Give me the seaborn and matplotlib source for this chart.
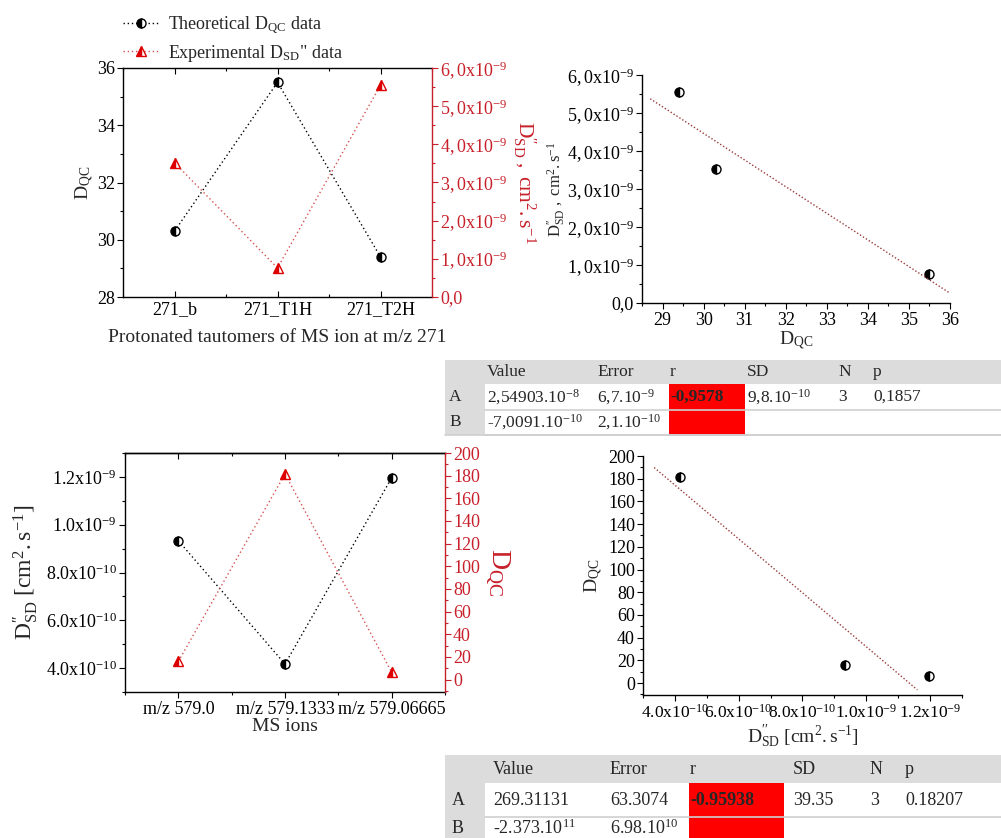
import numpy as np
import pandas as pd
import matplotlib
matplotlib.use("Agg")
import matplotlib.pyplot as plt
from matplotlib.ticker import MultipleLocator, FuncFormatter
from matplotlib.patches import Rectangle
import seaborn as sns

# ---------------- data ----------------
tautomers = ["271_b", "271_T1H", "271_T2H"]
dqc_271 = [30.3, 35.5, 29.4]
dsd_271 = [3.52e-9, 0.76e-9, 5.55e-9]

ions = ["m/z 579.0", "m/z 579.1333", "m/z 579.06665"]
dsd_579 = [9.33e-10, 4.17e-10, 1.196e-9]
dqc_579 = [16.0, 181.5, 6.5]

# linear fits  y = A + B*x
fit1_A, fit1_B = 2.54903e-8, -7.0091e-10
fit1_span = [28.7, 36.0]
fit2_A, fit2_B = 269.31131, -2.373e11
fit2_span = [3.35e-10, 1.16e-9]

table_header = ["Value", "Error", "r", "SD", "N", "p"]
table1_rows = [
    ["A", r"2,54903.10$\mathregular{^{-8}}$", r"6,7.10$\mathregular{^{-9}}$", "-0,9578",
     r"9,8.10$\mathregular{^{-10}}$", "3", "0,1857"],
    ["B", r"-7,0091.10$\mathregular{^{-10}}$", r"2,1.10$\mathregular{^{-10}}$", "", "", "", ""],
]
table2_rows = [
    ["A", "269.31131", "63.3074", "-0.95938", "39.35", "3", "0.18207"],
    ["B", r"-2.373.10$\mathregular{^{11}}$", r"6.98.10$\mathregular{^{10}}$", "", "", "", ""],
]

DSD_UNIT = r"$\mathregular{D_{SD}^{\prime\prime}\ ,\ cm^{2}.s^{-1}}$"
DSD_BRACKET = r"$\mathregular{D_{SD}^{\prime\prime}\ [cm^{2}.s^{-1}]}$"
DQC = r"$\mathregular{D_{QC}}$"

# ---------------- style ----------------
sns.set_theme(style="ticks")
plt.rcParams.update({
    "font.family": ["Liberation Serif", "DejaVu Serif"],
    "mathtext.fontset": "custom",
    "mathtext.rm": "Liberation Serif",
    "mathtext.it": "Liberation Serif:italic",
    "mathtext.bf": "Liberation Serif:bold",
    "font.size": 13,
    "axes.linewidth": 1.0,
    "axes.edgecolor": "black",
    "xtick.color": "black",
    "ytick.color": "black",
    "xtick.labelsize": 13,
    "ytick.labelsize": 13,
    "xtick.major.size": 4,
    "ytick.major.size": 4,
    "xtick.minor.size": 2.5,
    "ytick.minor.size": 2.5,
    "xtick.major.width": 0.8,
    "ytick.major.width": 0.8,
    "xtick.minor.width": 0.8,
    "ytick.minor.width": 0.8,
    "xtick.major.pad": 2.5,
    "ytick.major.pad": 1.8,
    "legend.numpoints": 1,
})

RED = "#c8202a"
TRI_RED = "#dd0000"
LINE_RED = "#d85050"
FIT_COL = "#9a3a3a"

W, H = 1001, 838
fig = plt.figure(figsize=(W / 100, H / 100), dpi=100)


def ax_px(x0, y0, x1, y1):
    return fig.add_axes([x0 / W, 1 - y1 / H, (x1 - x0) / W, (y1 - y0) / H])


def sci_fmt(sep):
    def f(v, pos):
        if abs(v) < 1e-30:
            return f"0{sep}0"
        e = int(np.floor(round(np.log10(abs(v)), 6)))
        m = v / 10.0 ** e
        s = f"{m:.1f}".replace(".", sep)
        return rf"$\mathregular{{{s}x10^{{{e}}}}}$"
    return FuncFormatter(f)


circ_kw = dict(marker="o", fillstyle="left", markersize=6.5, markeredgecolor="black",
               markerfacecolor="black", markerfacecoloralt="white", markeredgewidth=1.0)
tri_kw = dict(marker="^", fillstyle="left", markersize=7.5, markeredgecolor=TRI_RED,
              markerfacecolor=TRI_RED, markerfacecoloralt="white", markeredgewidth=1.0)
dot_ls = (0, (1, 2))

# ---------------- panel 1: tautomers of m/z 271 ----------------
df1 = pd.DataFrame({"tautomer": tautomers, "dqc": dqc_271, "dsd": dsd_271})
ax1 = ax_px(123, 68, 432, 297)
sns.lineplot(data=df1, x="tautomer", y="dqc", ax=ax1, sort=False, legend=False,
             color="black", linestyle=dot_ls, linewidth=1.0, **circ_kw)
ax1.set_xlim(-0.5, 2.5)
ax1.set_ylim(28, 36)
ax1.yaxis.set_major_locator(MultipleLocator(2))
ax1.yaxis.set_minor_locator(MultipleLocator(1))
ax1.xaxis.set_minor_locator(MultipleLocator(0.5))
ax1.tick_params(axis="x", which="both", direction="in", top=True, bottom=True, pad=3)
ax1.tick_params(axis="y", which="both", direction="out", left=True, right=False)
ax1.set_xlabel("Protonated tautomers of MS ion at m/z 271", fontsize=14, labelpad=8)
ax1.set_ylabel(DQC, fontsize=14, labelpad=1)
ax1.spines["right"].set_visible(False)

ax1b = ax1.twinx()
sns.lineplot(data=df1, x="tautomer", y="dsd", ax=ax1b, sort=False, legend=False,
             color=LINE_RED, linestyle=dot_ls, linewidth=1.0, **tri_kw)
ax1b.set_ylim(0, 6e-9)
ax1b.yaxis.set_major_locator(MultipleLocator(1e-9))
ax1b.yaxis.set_minor_locator(MultipleLocator(0.5e-9))
ax1b.yaxis.set_major_formatter(sci_fmt(","))
ax1b.yaxis.get_offset_text().set_visible(False)
ax1b.tick_params(axis="y", which="both", direction="out", colors=RED, labelcolor=RED)
for s in ("left", "top", "bottom"):
    ax1b.spines[s].set_visible(False)
ax1b.spines["right"].set_color(RED)
ax1b.set_ylabel(DSD_UNIT, color=RED, fontsize=15.5, rotation=270, labelpad=22)

fig.legend([ax1.lines[0], ax1b.lines[0]],
           [r"Theoretical $\mathregular{D_{QC}}$ data",
            r'Experimental $\mathregular{D_{SD}}$" data'],
           loc="upper left", bbox_to_anchor=(110 / W, 1 - 2 / H), frameon=False,
           handlelength=2.0, handletextpad=0.5, labelspacing=0.35, fontsize=13,
           borderpad=0.2)

# ---------------- panel 2: D_SD vs D_QC (271) ----------------
ax2 = ax_px(642, 75, 950, 303)
sns.lineplot(x=dqc_271, y=dsd_271, ax=ax2, sort=False, legend=False,
             linestyle="none", **circ_kw)
x_fit1 = np.array(fit1_span)
sns.lineplot(x=x_fit1, y=fit1_A + fit1_B * x_fit1, ax=ax2, legend=False,
             color=FIT_COL, linestyle=(0, (1, 1.5)), linewidth=1.0)
ax2.set_xlim(28.5, 36)
ax2.set_ylim(0, 6e-9)
ax2.xaxis.set_major_locator(MultipleLocator(1))
ax2.xaxis.set_minor_locator(MultipleLocator(0.5))
ax2.yaxis.set_major_locator(MultipleLocator(1e-9))
ax2.yaxis.set_minor_locator(MultipleLocator(0.5e-9))
ax2.yaxis.set_major_formatter(sci_fmt(","))
ax2.yaxis.get_offset_text().set_visible(False)
ax2.tick_params(which="both", direction="out")
sns.despine(ax=ax2)
ax2.set_xlabel(DQC, fontsize=14, labelpad=0)
ax2.set_ylabel(DSD_UNIT, labelpad=-1)

# ---------------- panel 3: MS ions of m/z 579 ----------------
df3 = pd.DataFrame({"ion": ions, "dsd": dsd_579, "dqc": dqc_579})
ax3 = ax_px(125, 453, 445, 692)
sns.lineplot(data=df3, x="ion", y="dsd", ax=ax3, sort=False, legend=False,
             color="black", linestyle=dot_ls, linewidth=1.0, **circ_kw)
ax3.set_xlim(-0.5, 2.5)
ax3.set_ylim(3e-10, 1.3e-9)
ax3.yaxis.set_major_locator(MultipleLocator(2e-10))
ax3.yaxis.set_minor_locator(MultipleLocator(1e-10))
ax3.yaxis.set_major_formatter(sci_fmt("."))
ax3.yaxis.get_offset_text().set_visible(False)
ax3.xaxis.set_minor_locator(MultipleLocator(0.5))
ax3.tick_params(axis="x", which="both", direction="out", bottom=True, top=False)
ax3.tick_params(axis="y", which="both", direction="out", left=True, right=False)
ax3.spines["right"].set_visible(False)
ax3.set_xlabel("MS ions", fontsize=14, labelpad=0)
ax3.set_ylabel(DSD_BRACKET, fontsize=17, labelpad=4)
ax3top = ax3.secondary_xaxis("top")
ax3top.xaxis.set_major_locator(MultipleLocator(1))
ax3top.xaxis.set_minor_locator(MultipleLocator(0.5))
ax3top.tick_params(which="both", direction="in", labeltop=False)

ax3b = ax3.twinx()
sns.lineplot(data=df3, x="ion", y="dqc", ax=ax3b, sort=False, legend=False,
             color=LINE_RED, linestyle=dot_ls, linewidth=1.0, **tri_kw)
ax3b.set_ylim(-11, 200)
ax3b.yaxis.set_major_locator(MultipleLocator(20))
ax3b.yaxis.set_minor_locator(MultipleLocator(10))
ax3b.tick_params(axis="y", which="both", direction="out", colors=RED, labelcolor=RED)
for s in ("left", "top", "bottom"):
    ax3b.spines[s].set_visible(False)
ax3b.spines["right"].set_color(RED)
ax3b.set_ylabel(DQC, color=RED, fontsize=20, rotation=270, labelpad=22)

# ---------------- panel 4: D_QC vs D_SD (579) ----------------
ax4 = ax_px(643, 456, 962, 695)
sns.lineplot(x=dsd_579, y=dqc_579, ax=ax4, sort=False, legend=False,
             linestyle="none", **circ_kw)
x_fit2 = np.array(fit2_span)
sns.lineplot(x=x_fit2, y=fit2_A + fit2_B * x_fit2, ax=ax4, legend=False,
             color=FIT_COL, linestyle=(0, (1, 1.5)), linewidth=1.0)
ax4.set_xlim(3e-10, 1.3e-9)
ax4.set_ylim(-10.5, 200)
ax4.xaxis.set_major_locator(MultipleLocator(2e-10))
ax4.xaxis.set_minor_locator(MultipleLocator(1e-10))
ax4.xaxis.set_major_formatter(sci_fmt("."))
ax4.xaxis.get_offset_text().set_visible(False)
ax4.yaxis.set_major_locator(MultipleLocator(20))
ax4.yaxis.set_minor_locator(MultipleLocator(10))
ax4.tick_params(which="both", direction="out")
ax4.tick_params(axis="x", labelsize=12.5)
sns.despine(ax=ax4)
ax4.set_xlabel(DSD_BRACKET, fontsize=14, labelpad=1)
ax4.set_ylabel(DQC, fontsize=14, labelpad=2)

# ---------------- fit tables ----------------
tab = fig.add_axes([0, 0, 1, 1], zorder=-1)
tab.set_xlim(0, W)
tab.set_ylim(H, 0)
tab.axis("off")
GRAY = "#dcdcdc"
LINE = "#cfcfcf"


def draw_table(rows, top, head_h, row_h, text_y, col_x, red_x, fs):
    x0, x1, lab_w = 445, W, 40
    n = len(rows)
    bottom = top + head_h + n * row_h
    tab.add_patch(Rectangle((x0, top), x1 - x0, head_h, color=GRAY, lw=0))
    tab.add_patch(Rectangle((x0, top + head_h), lab_w, n * row_h, color=GRAY, lw=0))
    tab.add_patch(Rectangle((red_x[0], top + head_h), red_x[1] - red_x[0], n * row_h,
                            color="#ff0000", lw=0))
    for i in range(1, n + 1):
        y = top + head_h + i * row_h
        tab.plot([x0 + lab_w, x1], [y, y], color=LINE, lw=1.2)
    tab.plot([x0, x1], [bottom, bottom], color=LINE, lw=1.2)
    for cx, txt in zip(col_x[1:], table_header):
        tab.text(cx, text_y[0], txt, ha="left", va="center", fontsize=fs)
    for i, row in enumerate(rows):
        for j, (cx, txt) in enumerate(zip(col_x, row)):
            tab.text(cx, text_y[i + 1], txt, ha="left", va="center", fontsize=fs,
                     fontweight="bold" if j == 3 else "normal")


draw_table(table1_rows, 360, 24, 25.5, [372, 397, 422],
           [449, 487, 597, 670, 747, 838, 873], (669, 745), 12.5)
draw_table(table2_rows, 755, 28, 34, [769, 800, 828],
           [452, 493, 610, 690, 793, 870, 905], (689, 784), 13)

fig.savefig("out.png", dpi=100, facecolor="white")
